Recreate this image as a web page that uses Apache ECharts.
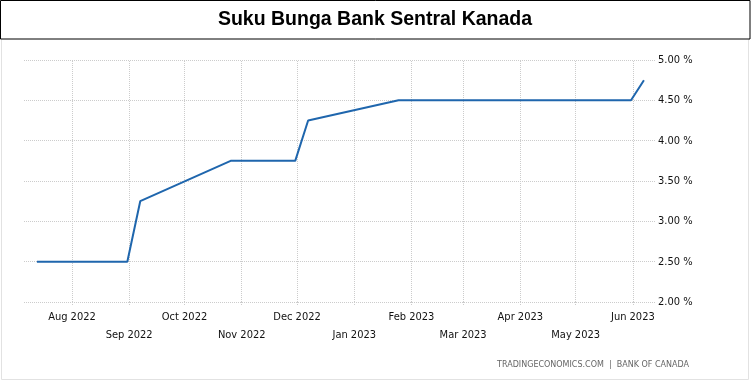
<!DOCTYPE html>
<html><head><meta charset="utf-8">
<script src="https://cdn.jsdelivr.net/npm/echarts@6/dist/echarts.min.js"></script>
<style>html,body{margin:0;padding:0;background:#fff}#c{width:751px;height:390px}</style>
</head><body><div id="c"></div>
<script>
const titleText = 'Suku Bunga Bank Sentral Kanada';
const sourceText = 'TRADINGECONOMICS.COM  |  BANK OF CANADA';
const dates = ['2022-07-13','2022-08-31','2022-09-07','2022-10-26','2022-11-30','2022-12-07','2023-01-25','2023-03-08','2023-04-12','2023-05-31','2023-06-07'];
const rates = [2.50, 2.50, 3.25, 3.75, 3.75, 4.25, 4.50, 4.50, 4.50, 4.50, 4.75];
const monthTicks = ['2022-08-01','2022-09-01','2022-10-01','2022-11-01','2022-12-01','2023-01-01','2023-02-01','2023-03-01','2023-04-01','2023-05-01','2023-06-01'];
const monthLabels = ['Aug 2022','Sep 2022','Oct 2022','Nov 2022','Dec 2022','Jan 2023','Feb 2023','Mar 2023','Apr 2023','May 2023','Jun 2023'];
const xMin = '2022-07-06', xMax = '2023-06-13';
const yMin = 2, yMax = 5, yStep = 0.5;

const ts = s => new Date(s + 'T00:00:00Z').getTime();
const tickTs = monthTicks.map(ts);
const chart = echarts.init(document.getElementById('c'), null, {renderer:'canvas'});
chart.setOption({
  animation:false,
  backgroundColor:'#fff',
  graphic:[
    {type:'rect', shape:{x:1.5,y:0.5,width:747,height:379}, style:{fill:'#fff', stroke:'#e2e2e2', lineWidth:1}, z:0},
    {type:'rect', shape:{x:0.5,y:0.5,width:749.5,height:38.5}, style:{fill:'#fff', stroke:'#000', lineWidth:1}, z:1},
    {type:'text', x:375, y:20, style:{text:titleText, font:'bold 19.5px "Liberation Sans", Arial, sans-serif', fill:'#000', align:'center', verticalAlign:'middle'}, z:2},
    {type:'text', x:593, y:365, style:{text:sourceText, font:'8px "DejaVu Sans", sans-serif', fill:'#666', align:'center', verticalAlign:'middle'}, z:2}
  ],
  grid:{left:24, right:96, top:60, bottom:88},
  xAxis:{
    type:'value', min:ts(xMin), max:ts(xMax),
    axisLine:{show:false},
    splitLine:{show:false},
    axisTick:{show:true, customValues:tickTs, length:4, lineStyle:{color:'#ccc', type:'dotted'}},
    axisLabel:{
      customValues:tickTs, margin:6, lineHeight:18,
      fontFamily:'"DejaVu Sans Condensed", "DejaVu Sans", sans-serif', fontSize:11, color:'#111',
      formatter:function(v){
        const i = tickTs.indexOf(v);
        const lab = i >= 0 ? monthLabels[i] : '';
        return (i % 2 === 1) ? '\n' + lab : lab;
      }
    }
  },
  yAxis:{
    type:'value', position:'right', min:yMin, max:yMax, interval:yStep,
    axisLine:{show:false}, axisTick:{show:false},
    splitLine:{show:true, lineStyle:{color:'#ccc', type:'dotted', width:1}},
    axisLabel:{margin:3, fontFamily:'"DejaVu Sans Condensed", "DejaVu Sans", sans-serif', fontSize:11, color:'#111',
      formatter:function(v){return v.toFixed(2) + ' %';}}
  },
  series:[{
    type:'line', z:3,
    data:dates.map((d,i)=>[ts(d), rates[i]]),
    showSymbol:false, symbol:'none',
    lineStyle:{color:'#1f66ad', width:2},
    markLine:{
      z:1, silent:true, symbol:['none','none'], label:{show:false},
      lineStyle:{color:'#ccc', type:'dotted', width:1},
      data:tickTs.map(t=>({xAxis:t}))
    }
  }]
});
</script>
</body></html>
